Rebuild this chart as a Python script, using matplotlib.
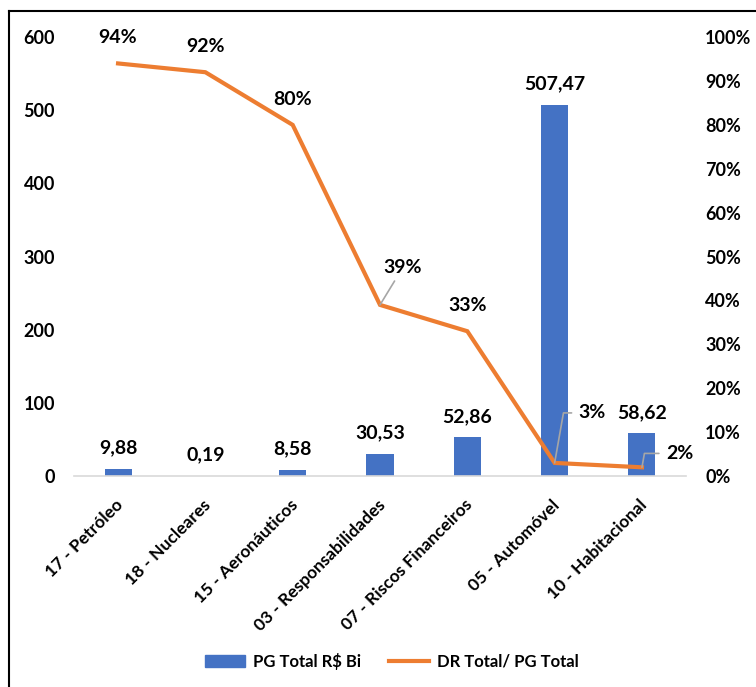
import numpy as np
import matplotlib.pyplot as plt
import matplotlib.transforms as mtransforms
from matplotlib.lines import Line2D

plt.rcParams['font.family'] = ['Lato', 'DejaVu Sans']
plt.rcParams['font.weight'] = 'bold'

ramos = ['17 - Petróleo', '18 - Nucleares', '15 - Aeronáuticos',
         '03 - Responsabilidades', '07 - Riscos Financeiros',
         '05 - Automóvel', '10 - Habitacional']
pg_total = [9.88, 0.19, 8.58, 30.53, 52.86, 507.47, 58.62]
dr_pg = [0.94, 0.92, 0.80, 0.39, 0.33, 0.03, 0.02]

azul = '#4472C4'
laranja = '#ED7D31'
cinza = '#a6a6a6'

fig = plt.figure(figsize=(7.56, 6.87), dpi=100)
ax = fig.add_axes([0.0984, 0.307, 0.8085, 0.639])
ax2 = ax.twinx()

x = np.arange(len(ramos))
ax.bar(x, pg_total, width=0.31, color=azul, zorder=2)
ax2.plot(x, dr_pg, color=laranja, lw=3, solid_joinstyle='miter', zorder=3)

ax.set_xlim(-0.5, 6.5)
ax.set_ylim(0, 600)
ax2.set_ylim(0, 1)
ax.set_yticks(range(0, 601, 100))
ax2.set_yticks(np.arange(0, 1.01, 0.1))
ax2.set_yticklabels([f'{int(round(v * 100))}%' for v in np.arange(0, 1.01, 0.1)])

for a in (ax, ax2):
    for s in a.spines.values():
        s.set_visible(False)
    a.tick_params(length=0, labelsize=13)
ax.spines['bottom'].set_visible(True)
ax.spines['bottom'].set_color('#d9d9d9')
ax.spines['bottom'].set_linewidth(1.2)
ax.tick_params(axis='y', pad=14)
ax2.tick_params(axis='y', pad=14)

ax.set_xticks(x)
ax.set_xticklabels(ramos, rotation=45, ha='right', rotation_mode='anchor', fontsize=12.5)
ax.tick_params(axis='x', pad=15)
desloc = mtransforms.ScaledTranslation(-2 / 72, 0, fig.dpi_scale_trans)
for lbl in ax.get_xticklabels():
    lbl.set_transform(lbl.get_transform() + desloc)

# rótulos das barras (formato brasileiro)
for xi, v in zip(x, pg_total):
    ax.annotate(f'{v:.2f}'.replace('.', ','), (xi, v), xytext=(0, 15),
                textcoords='offset points', ha='center', va='center', fontsize=14)

# rótulos da linha; alguns com linha de chamada
chamadas = {3: (16.5, 27), 5: (27, 36), 6: (27, 10)}
for i, (xi, v) in enumerate(zip(x, dr_pg)):
    txt = f'{int(round(v * 100))}%'
    if i == 3:
        dx, dy = chamadas[i]
        ax2.annotate(txt, (xi, v), xytext=(dx, dy), textcoords='offset points',
                     ha='center', va='center', fontsize=14,
                     arrowprops=dict(arrowstyle='-', color=cinza, lw=1.2,
                                     shrinkA=2, shrinkB=0))
    elif i in chamadas:
        dx, dy = chamadas[i]
        ax2.annotate(txt, (xi, v), xytext=(dx, dy), textcoords='offset points',
                     ha='center', va='center', fontsize=14,
                     arrowprops=dict(arrowstyle='-', color=cinza, lw=1.2,
                                     connectionstyle='angle,angleA=0,angleB=80,rad=0',
                                     shrinkA=3, shrinkB=0))
    else:
        ax2.annotate(txt, (xi, v), xytext=(0, 18.5), textcoords='offset points',
                     ha='center', va='center', fontsize=14)

handles = [plt.Rectangle((0, 0), 1, 1, color=azul),
           Line2D([0], [0], color=laranja, lw=3)]
fig.legend(handles, ['PG Total R$ Bi', 'DR Total/ PG Total'], loc='center',
           bbox_to_anchor=(392 / 756, 1 - 661 / 687), ncol=2, frameon=False,
           fontsize=12, handlelength=2.4, handletextpad=0.45, columnspacing=1.7)

# moldura
fig.add_artist(Line2D([8.5 / 756, 1], [1 - 11 / 687, 1 - 11 / 687], color='black', lw=1.5))
fig.add_artist(Line2D([8.5 / 756, 8.5 / 756], [0, 1 - 11 / 687], color='black', lw=1.5))

fig.savefig('out.png', dpi=100)
